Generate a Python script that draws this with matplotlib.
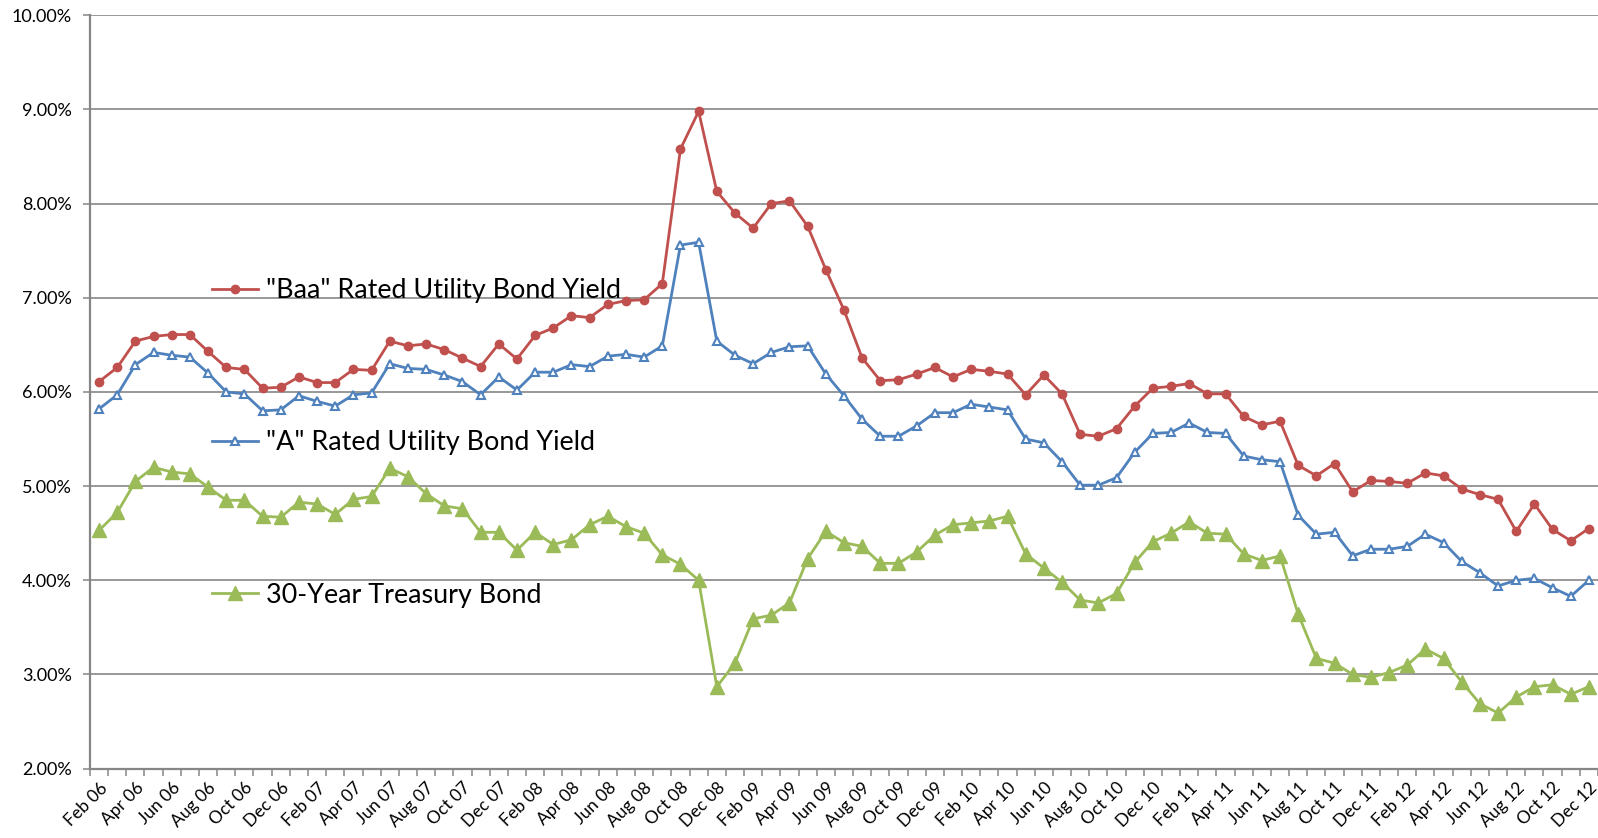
import numpy as np
import matplotlib.pyplot as plt
from matplotlib.ticker import FuncFormatter

plt.rcParams['font.family'] = ['Lato', 'DejaVu Sans']

mon = ["Jan", "Feb", "Mar", "Apr", "May", "Jun", "Jul", "Aug", "Sep", "Oct", "Nov", "Dec"]
months = [mon[(k + 1) % 12] + " " + str(6 + (k + 1) // 12).zfill(2) for k in range(83)]

baa = [6.11, 6.26, 6.54, 6.59, 6.61, 6.61, 6.43, 6.26, 6.24, 6.04, 6.05, 6.16,
       6.10, 6.10, 6.24, 6.23, 6.54, 6.49, 6.51, 6.45, 6.36, 6.27, 6.51, 6.35,
       6.60, 6.68, 6.81, 6.79, 6.93, 6.97, 6.98, 7.15, 8.58, 8.98, 8.13, 7.90,
       7.74, 8.00, 8.03, 7.76, 7.30, 6.87, 6.36, 6.12, 6.13, 6.19, 6.26, 6.16,
       6.24, 6.22, 6.19, 5.97, 6.18, 5.98, 5.55, 5.53, 5.61, 5.85, 6.04, 6.06,
       6.09, 5.98, 5.98, 5.74, 5.65, 5.69, 5.22, 5.11, 5.24, 4.94, 5.06, 5.05,
       5.03, 5.14, 5.11, 4.97, 4.91, 4.86, 4.52, 4.81, 4.54, 4.42, 4.55]

a_rated = [5.82, 5.97, 6.29, 6.42, 6.39, 6.37, 6.20, 6.00, 5.98, 5.80, 5.81, 5.96,
           5.90, 5.85, 5.97, 5.99, 6.30, 6.25, 6.24, 6.18, 6.11, 5.97, 6.16, 6.02,
           6.21, 6.21, 6.29, 6.27, 6.38, 6.40, 6.37, 6.49, 7.56, 7.59, 6.54, 6.39,
           6.30, 6.42, 6.48, 6.49, 6.19, 5.96, 5.71, 5.53, 5.53, 5.64, 5.78, 5.78,
           5.87, 5.84, 5.81, 5.50, 5.46, 5.26, 5.01, 5.01, 5.09, 5.36, 5.56, 5.57,
           5.67, 5.57, 5.56, 5.32, 5.28, 5.26, 4.69, 4.49, 4.51, 4.26, 4.33, 4.33,
           4.36, 4.49, 4.40, 4.20, 4.08, 3.94, 4.00, 4.02, 3.92, 3.83, 4.00]

treasury = [4.53, 4.72, 5.05, 5.20, 5.15, 5.13, 4.99, 4.85, 4.85, 4.68, 4.67, 4.83,
            4.81, 4.70, 4.86, 4.89, 5.19, 5.10, 4.92, 4.79, 4.76, 4.51, 4.51, 4.32,
            4.51, 4.38, 4.43, 4.59, 4.68, 4.57, 4.50, 4.27, 4.17, 4.00, 2.87, 3.12,
            3.59, 3.63, 3.76, 4.23, 4.52, 4.40, 4.36, 4.18, 4.18, 4.30, 4.48, 4.59,
            4.61, 4.63, 4.68, 4.28, 4.13, 3.98, 3.79, 3.76, 3.86, 4.19, 4.41, 4.50,
            4.62, 4.50, 4.49, 4.28, 4.21, 4.26, 3.64, 3.17, 3.12, 3.00, 2.97, 3.02,
            3.10, 3.27, 3.17, 2.92, 2.69, 2.59, 2.76, 2.87, 2.89, 2.79, 2.87]

x = np.arange(len(months))
grid_c = "#868686"

fig = plt.figure(figsize=(15.98, 8.38), dpi=100)
ax = fig.add_axes([0.0563, 0.0828, 0.9437, 0.8989])

ax.plot(x, baa, color="#C0504D", lw=2, marker="o", ms=6, label='"Baa" Rated Utility Bond Yield')
ax.plot(x, a_rated, color="#4F81BD", lw=2, marker="^", ms=6, mfc="white", mec="#4F81BD",
        mew=1.5, label='"A" Rated Utility Bond Yield')
ax.plot(x, treasury, color="#9BBB59", lw=2, marker="^", ms=10, label="30-Year Treasury Bond")

ax.set_xlim(-0.5, 82.5)
ax.set_ylim(2, 10)
ax.set_yticks(np.arange(2, 10.5, 1))
ax.yaxis.set_major_formatter(FuncFormatter(lambda v, p: "%.2f%%" % v))
ax.set_xticks(x[::2])
ax.set_xticklabels(months[::2], rotation=45, ha="right", rotation_mode="anchor", fontsize=12.5)
ax.set_xticks(np.arange(-0.5, 83, 1), minor=True)
ax.tick_params(axis="x", which="major", length=0, pad=8)
ax.tick_params(axis="x", which="minor", length=5, color=grid_c, width=1.1)
ax.tick_params(axis="y", length=5, color=grid_c, width=1.1, labelsize=13, pad=8)

ax.grid(axis="y", color=grid_c, lw=1.2)
ax.set_axisbelow(True)
for s in ["top", "right"]:
    ax.spines[s].set_visible(False)
for s in ["left", "bottom"]:
    ax.spines[s].set_color(grid_c)
    ax.spines[s].set_linewidth(1.6)

ax.legend(loc="upper left", bbox_to_anchor=(0.081, 0.651), frameon=False, fontsize=19.4,
          labelspacing=4.72, handlelength=1.7, handletextpad=0.3, borderpad=0, borderaxespad=0)

plt.savefig("out.png", dpi=100)
